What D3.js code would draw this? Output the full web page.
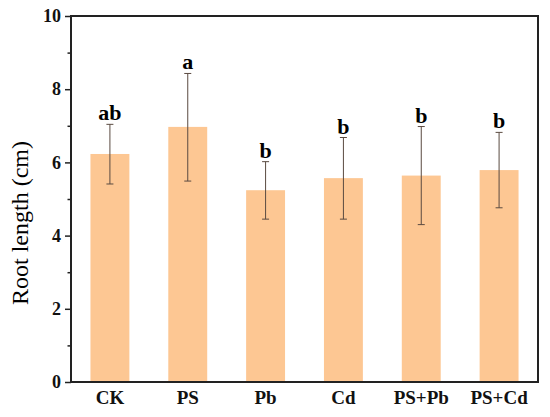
<!DOCTYPE html>
<html>
<head>
<meta charset="utf-8">
<script src="https://cdn.jsdelivr.net/npm/d3@7"></script>
<style>
  body { margin: 0; background: #fff; }
  svg { font-family: "Liberation Serif", "Times New Roman", serif; }
</style>
</head>
<body>
<svg width="550" height="417"></svg>
<script>
// data
const groups = ["CK", "PS", "Pb", "Cd", "PS+Pb", "PS+Cd"];
const means = [6.23, 6.97, 5.24, 5.57, 5.64, 5.79];
const errTop = [7.04, 8.43, 6.02, 6.68, 6.98, 6.82];
const errBottom = [5.41, 5.49, 4.45, 4.45, 4.30, 4.76];
const letters = ["ab", "a", "b", "b", "b", "b"];
const yTicks = [0, 2, 4, 6, 8, 10];

const margin = { left: 71, right: 12, top: 16, bottom: 35 };
const width = 550, height = 417;

const svg = d3.select("svg");

const x = d3.scaleBand()
  .domain(groups)
  .range([margin.left, width - margin.right])
  .paddingInner(0.5)
  .paddingOuter(0.25);

const y = d3.scaleLinear()
  .domain([0, 10])
  .range([height - margin.bottom, margin.top]);

// bars
svg.selectAll("rect.bar")
  .data(groups)
  .enter()
  .append("rect")
  .attr("class", "bar")
  .attr("x", d => x(d))
  .attr("y", (d, i) => y(means[i]))
  .attr("width", x.bandwidth())
  .attr("height", (d, i) => y(0) - y(means[i]))
  .attr("fill", "#fdc793");

// error bars
const eb = svg.selectAll("g.err")
  .data(groups)
  .enter()
  .append("g")
  .attr("class", "err")
  .attr("stroke", "#5a4a40")
  .attr("stroke-width", 1);

eb.append("line")
  .attr("x1", d => x(d) + x.bandwidth() / 2)
  .attr("x2", d => x(d) + x.bandwidth() / 2)
  .attr("y1", (d, i) => y(errTop[i]))
  .attr("y2", (d, i) => y(errBottom[i]));

eb.append("line")
  .attr("x1", d => x(d) + x.bandwidth() / 2 - 3.5)
  .attr("x2", d => x(d) + x.bandwidth() / 2 + 3.5)
  .attr("y1", (d, i) => y(errTop[i]))
  .attr("y2", (d, i) => y(errTop[i]));

eb.append("line")
  .attr("x1", d => x(d) + x.bandwidth() / 2 - 3.5)
  .attr("x2", d => x(d) + x.bandwidth() / 2 + 3.5)
  .attr("y1", (d, i) => y(errBottom[i]))
  .attr("y2", (d, i) => y(errBottom[i]));

// significance letters
svg.selectAll("text.sig")
  .data(groups)
  .enter()
  .append("text")
  .attr("class", "sig")
  .attr("x", d => x(d) + x.bandwidth() / 2)
  .attr("y", (d, i) => y(errTop[i]) - 4)
  .attr("text-anchor", "middle")
  .style("font-size", "22px")
  .style("font-weight", "bold")
  .text((d, i) => letters[i]);

// frame
svg.append("rect")
  .attr("x", margin.left)
  .attr("y", margin.top)
  .attr("width", width - margin.left - margin.right)
  .attr("height", height - margin.top - margin.bottom)
  .attr("fill", "none")
  .attr("stroke", "#222")
  .attr("stroke-width", 2);

// y axis
const yAxis = d3.axisLeft(y)
  .tickValues(yTicks)
  .tickSize(6)
  .tickPadding(4);

const gy = svg.append("g")
  .attr("transform", `translate(${margin.left},0)`)
  .call(yAxis);
gy.select(".domain").remove();
gy.selectAll(".tick line").attr("stroke", "#222").attr("stroke-width", 1.5);
gy.selectAll(".tick text")
  .style("font-size", "18px")
  .style("font-weight", "bold")
  .style("font-family", "Liberation Serif, serif")
  .attr("fill", "#111");

// minor ticks
const gyMinor = svg.append("g")
  .attr("transform", `translate(${margin.left},0)`)
  .call(d3.axisLeft(y).tickValues([1, 3, 5, 7, 9]).tickSize(3.5).tickFormat(""));
gyMinor.select(".domain").remove();
gyMinor.selectAll(".tick line").attr("stroke", "#222").attr("stroke-width", 1.5);

// x axis
const gx = svg.append("g")
  .attr("transform", `translate(0,${height - margin.bottom})`)
  .call(d3.axisBottom(x).tickSize(0).tickPadding(9));
gx.select(".domain").remove();
gx.selectAll(".tick text")
  .style("font-size", "19px")
  .style("font-weight", "bold")
  .style("font-family", "Liberation Serif, serif")
  .attr("fill", "#111");

// y label
svg.append("text")
  .attr("transform", `translate(28, ${(margin.top + height - margin.bottom) / 2 + 24}) rotate(-90)`)
  .attr("text-anchor", "middle")
  .style("font-size", "24px")
  .text("Root length (cm)");
</script>
</body>
</html>
